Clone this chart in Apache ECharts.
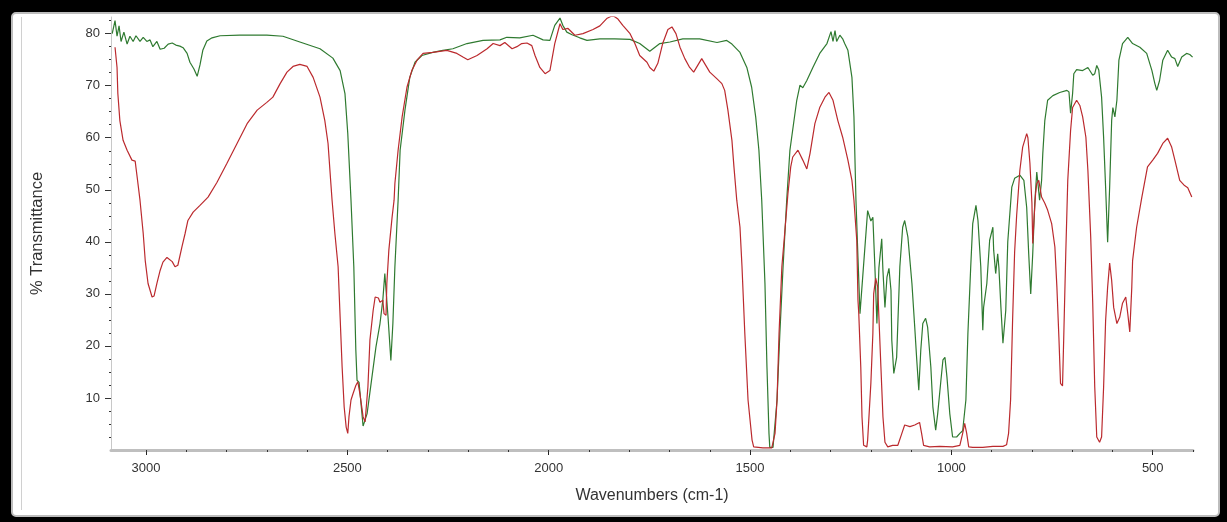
<!DOCTYPE html>
<html>
<head>
<meta charset="utf-8">
<script src="https://cdn.jsdelivr.net/npm/echarts@6/dist/echarts.min.js"></script>
<style>
  html, body { margin: 0; padding: 0; background: #000; width: 1227px; height: 522px; overflow: hidden; }
  #panel { position: absolute; left: 11px; top: 12px; width: 1205px; height: 501px; background: #fff;
           border: 2px solid #bdbdbd; border-radius: 5px; }
  #inner { position: absolute; left: 21px; top: 17px; width: 1px; height: 493px; background: #d0d0d0; }
  #chart { position: absolute; left: 0; top: 0; width: 1227px; height: 522px; }
</style>
</head>
<body>
<div id="panel"></div>
<div id="inner"></div>
<div id="chart"></div>
<script>
// ---- Data (wavenumber in cm-1, % transmittance) ----
const greenWavenumbers = [3084,3077,3072,3067,3062,3055,3047,3040,3032,3025,3015,3007,2998,2990,2983,2973,2965,2955,2945,2935,2926,2916,2908,2898,2891,2881,2873,2866,2859,2849,2836,2816,2767,2700,2660,2618,2568,2536,2518,2506,2499,2491,2484,2479,2476,2471,2461,2451,2439,2429,2419,2412,2407,2399,2392,2387,2382,2374,2369,2357,2345,2332,2315,2288,2263,2238,2203,2163,2121,2104,2072,2039,2014,1997,1985,1972,1965,1955,1942,1923,1905,1873,1836,1798,1774,1749,1724,1699,1667,1625,1582,1558,1545,1525,1508,1496,1486,1478,1471,1463,1458,1453,1451,1443,1433,1426,1418,1409,1401,1384,1376,1369,1359,1344,1327,1309,1299,1294,1289,1285,1277,1270,1265,1257,1247,1242,1237,1232,1227,1208,1200,1195,1190,1185,1180,1173,1170,1165,1160,1155,1150,1148,1143,1136,1128,1121,1116,1108,1098,1091,1086,1081,1076,1071,1064,1059,1051,1046,1039,1034,1026,1021,1016,1011,1004,997,987,979,972,964,959,952,947,939,934,927,922,920,912,905,897,895,890,885,882,877,872,865,860,850,843,830,820,813,808,803,798,793,788,785,781,776,773,768,761,748,731,713,708,704,699,696,689,674,661,649,644,639,634,627,622,617,612,607,602,599,594,589,584,575,562,550,532,515,502,495,490,483,475,463,453,445,438,428,416,408,401];
const greenT = [80,82.5,79.5,81.5,78.5,80.3,78,79.5,78.5,79.6,78.5,79.3,78.5,78.8,77.5,78.5,77,77.2,78,78.2,77.8,77.6,77.3,76.2,74.5,73.2,71.8,74,76.8,78.6,79.2,79.6,79.7,79.7,79.5,78.4,77.1,75.3,72.9,68.5,60.8,48,35.2,19.2,13.4,13,4.6,7,14,19.8,24.3,28.8,33.9,25.5,17.2,24.3,35.2,48,57.6,65.3,71.6,74.5,75.8,76.4,76.8,77.1,78.1,78.7,78.8,79.3,79.2,79.7,78.8,78.7,81.6,83,81.6,80.3,79.8,79.2,78.7,79,79,78.9,78.1,76.6,78.1,78.4,79,79,78.3,78.7,78,76.4,73.5,69.7,64,57.6,48,32,15.9,3.2,0.5,0.5,9.6,22.4,35.2,48,57.6,67.2,70.1,69.6,71,73.5,76.2,78.1,80.4,78.5,80.6,78.5,79.7,79,78.1,76.8,71.6,64,48,37,26.2,46,44,44.7,35.2,24.3,35,40.6,34.5,27.4,33.2,34.9,30.7,21.1,14.7,17.8,35.2,42.8,44.1,40.9,32,23.6,17.3,11.5,19.2,24.3,25.3,23.6,15.9,8.3,3.8,7,13.4,17.3,17.8,14,7,2.5,2.5,3.2,3.7,9.6,22.4,35.2,43.5,47,44.1,35.2,23,27.4,32,40.3,42.8,38.4,33.9,37.7,35,27.4,20.5,26.8,40,50.5,52.2,52.8,51.8,46.6,37.7,30,37.7,47.4,53.4,51.2,48,51.8,57,63.3,67.2,68.1,68.7,69.1,68.8,64.7,68.5,72.3,73.1,72.9,73.5,72,72.3,73.9,73,67.8,60.1,50.5,39.9,50.5,63.3,65.8,64,67.2,74.9,78.1,79.3,78.1,77.4,76.2,72.9,70.5,69.1,71,74.9,76.8,75.5,75.2,73.7,75.5,76.2,76,75.5];

const redWavenumbers = [3077,3072,3070,3065,3057,3047,3035,3027,3022,3015,3007,3002,2995,2985,2980,2973,2965,2958,2948,2935,2928,2921,2911,2903,2896,2883,2866,2846,2824,2799,2774,2749,2724,2700,2685,2667,2650,2635,2618,2600,2585,2568,2556,2548,2541,2538,2531,2523,2518,2513,2508,2503,2499,2496,2491,2486,2479,2474,2469,2461,2456,2449,2444,2436,2431,2423,2419,2412,2409,2404,2402,2397,2389,2384,2382,2374,2364,2352,2340,2327,2312,2288,2253,2228,2213,2201,2178,2153,2138,2121,2109,2091,2079,2067,2054,2042,2034,2022,2009,1997,1985,1972,1965,1952,1935,1915,1890,1873,1856,1841,1828,1816,1798,1786,1774,1756,1749,1739,1729,1717,1704,1694,1684,1674,1662,1650,1640,1630,1620,1610,1600,1582,1570,1563,1555,1545,1540,1533,1525,1520,1513,1505,1495,1491,1468,1446,1443,1438,1433,1428,1421,1414,1406,1399,1394,1381,1369,1359,1351,1339,1327,1314,1304,1294,1282,1270,1257,1247,1242,1235,1232,1230,1225,1222,1218,1210,1208,1200,1195,1193,1188,1183,1180,1175,1170,1165,1158,1146,1133,1123,1116,1103,1091,1084,1079,1074,1069,1054,1029,997,979,972,967,962,957,947,922,897,872,863,858,853,848,843,838,830,823,813,810,805,800,798,795,791,788,783,776,768,761,751,743,738,733,729,724,721,716,711,704,699,689,681,674,666,661,654,649,644,639,632,627,622,617,612,607,602,597,589,582,575,567,562,557,552,550,540,527,513,500,488,475,463,453,445,433,421,413,403];
const redT = [77.4,73.5,68.5,63.3,59.5,57.6,55.7,55.5,52.4,48,41.6,36.4,32,29.4,29.6,32,34.5,36.1,37,36.2,35.2,35.5,39,41.6,44.1,45.7,47,48.6,51.4,55.1,58.9,62.7,65.3,66.8,67.8,70.4,72.6,73.7,74.1,73.7,71.6,67.8,63.3,58.9,51.2,48,41.6,35.2,25.5,15.9,8.3,4.4,3.2,6.4,9.6,10.8,12.4,13.1,10.9,6.4,5.4,12.1,21.1,26.8,29.4,29.2,28.4,28.8,26.2,25.9,32,38.4,44.7,48,51.2,57.6,64,69.7,72.9,74.9,76.2,76.4,76.8,76.2,75.5,75,75.8,77.1,78.1,77.7,78.3,77.1,77.5,78.1,78.2,77.7,75.8,73.5,72.3,72.9,78.1,81.9,80.8,81,79.7,80,80.8,81.5,82.9,83.5,82.8,81.6,80,78.1,75.8,74.5,73.5,72.8,74.3,78.1,80.8,81.3,80,77.4,75.2,73.5,72.6,73.9,75.2,73.9,72.6,71.3,70.4,69.1,65.3,59.5,54.4,48,42.8,35.2,22.4,9.6,1.9,0.6,0.4,0.4,0.6,3.2,9.6,22.4,35.2,41.6,49.2,54.4,56.3,57.6,55.7,54,57,62.7,65.8,67.8,68.7,67.2,63.3,60.1,55.7,51.8,48,40.3,28.8,26.2,15.9,6.4,0.9,0.6,1.9,12.8,22.4,30,33,31.3,25.5,15.9,6.4,1.5,0.6,0.9,0.9,3.2,4.8,4.5,4.8,5.1,5.3,3.2,0.9,0.6,0.7,0.6,0.9,3.2,5.1,3.2,0.6,0.5,0.5,0.7,0.7,1,3.2,9.6,25,38,45,53.7,58.2,60.8,60,55.1,47.4,39.7,44.1,49.2,51.2,51.8,48.6,47.4,46.1,43.5,39,31.3,21.6,12.8,12.3,21.6,37.7,51.8,61.4,65.8,67.2,66.2,64,60.1,53.7,40.9,28.2,12.1,2.5,1.5,2.5,12.1,24.9,31.3,35.9,32.6,27.4,24.3,25.5,28.2,29.4,26.2,22.7,31.3,36.4,42.8,48.6,54.4,55.7,57,58.9,59.9,58.2,55.7,51.8,50.8,50.4,48.6];

// ---- Axis tick values ----
const xTickLabels = [3000, 2500, 2000, 1500, 1000, 500];
const xMinorTicks = [3000,2900,2800,2700,2600,2500,2400,2300,2200,2100,2000,1900,1800,1700,1600,1500,1400,1300,1200,1100,1000,900,800,700,600,500,400];
const yTickLabels = [10, 20, 30, 40, 50, 60, 70, 80];
const yMinorTicks = [2.5,5,7.5,10,12.5,15,17.5,20,22.5,25,27.5,30,32.5,35,37.5,40,42.5,45,47.5,50,52.5,55,57.5,60,62.5,65,67.5,70,72.5,75,77.5,80,82.5];

const zip = (xs, ys) => xs.map((x, i) => [x, ys[i]]);

const chart = echarts.init(document.getElementById('chart'), null, { renderer: 'canvas' });
const FONT = 'Liberation Sans, Arial, sans-serif';
const X_MIN = 400, X_MAX = 3087, Y_MIN = 0, Y_MAX = 83.2;
const plain = v => String(v);

chart.setOption({
  animation: false,
  backgroundColor: 'transparent',
  grid: { left: 111, right: 34, top: 17, bottom: 72, containLabel: false },
  xAxis: [
    {
      type: 'value', inverse: true, min: X_MIN, max: X_MAX,
      name: 'Wavenumbers (cm-1)', nameLocation: 'middle', nameGap: 38,
      nameTextStyle: { fontFamily: FONT, fontSize: 16, color: '#333' },
      axisLine: { show: true, lineStyle: { color: '#bfbfbf', width: 3 } },
      axisTick: { show: true, customValues: xTickLabels, length: 5, lineStyle: { color: '#222', width: 1 } },
      axisLabel: { show: true, customValues: xTickLabels, formatter: plain, margin: 12, fontFamily: FONT, fontSize: 13, color: '#333' },
      splitLine: { show: false }
    },
    {
      type: 'value', inverse: true, min: X_MIN, max: X_MAX, position: 'bottom', gridIndex: 0,
      axisLine: { show: false },
      axisTick: { show: true, customValues: xMinorTicks, length: 2, lineStyle: { color: '#333', width: 1 } },
      axisLabel: { show: false },
      splitLine: { show: false }
    }
  ],
  yAxis: [
    {
      type: 'value', min: Y_MIN, max: Y_MAX,
      name: '% Transmittance', nameLocation: 'middle', nameGap: 65,
      nameTextStyle: { fontFamily: FONT, fontSize: 16.5, color: '#333' },
      axisLine: { show: true, lineStyle: { color: '#c8c8c8', width: 1 } },
      axisTick: { show: true, customValues: yTickLabels, length: 6, lineStyle: { color: '#333', width: 1 } },
      axisLabel: { show: true, customValues: yTickLabels, formatter: plain, margin: 11, fontFamily: FONT, fontSize: 13, color: '#333' },
      splitLine: { show: false }
    },
    {
      type: 'value', min: Y_MIN, max: Y_MAX, position: 'left', gridIndex: 0,
      axisLine: { show: false },
      axisTick: { show: true, customValues: yMinorTicks, length: 2, lineStyle: { color: '#333', width: 1 } },
      axisLabel: { show: false },
      splitLine: { show: false }
    }
  ],
  series: [
    {
      type: 'line', name: 'green', data: zip(greenWavenumbers, greenT),
      showSymbol: false, symbol: 'none', clip: true,
      lineStyle: { color: '#2f7a30', width: 1.2 }
    },
    {
      type: 'line', name: 'red', data: zip(redWavenumbers, redT),
      showSymbol: false, symbol: 'none', clip: true,
      lineStyle: { color: '#bb2a2e', width: 1.2 }
    }
  ]
});
</script>
</body>
</html>
